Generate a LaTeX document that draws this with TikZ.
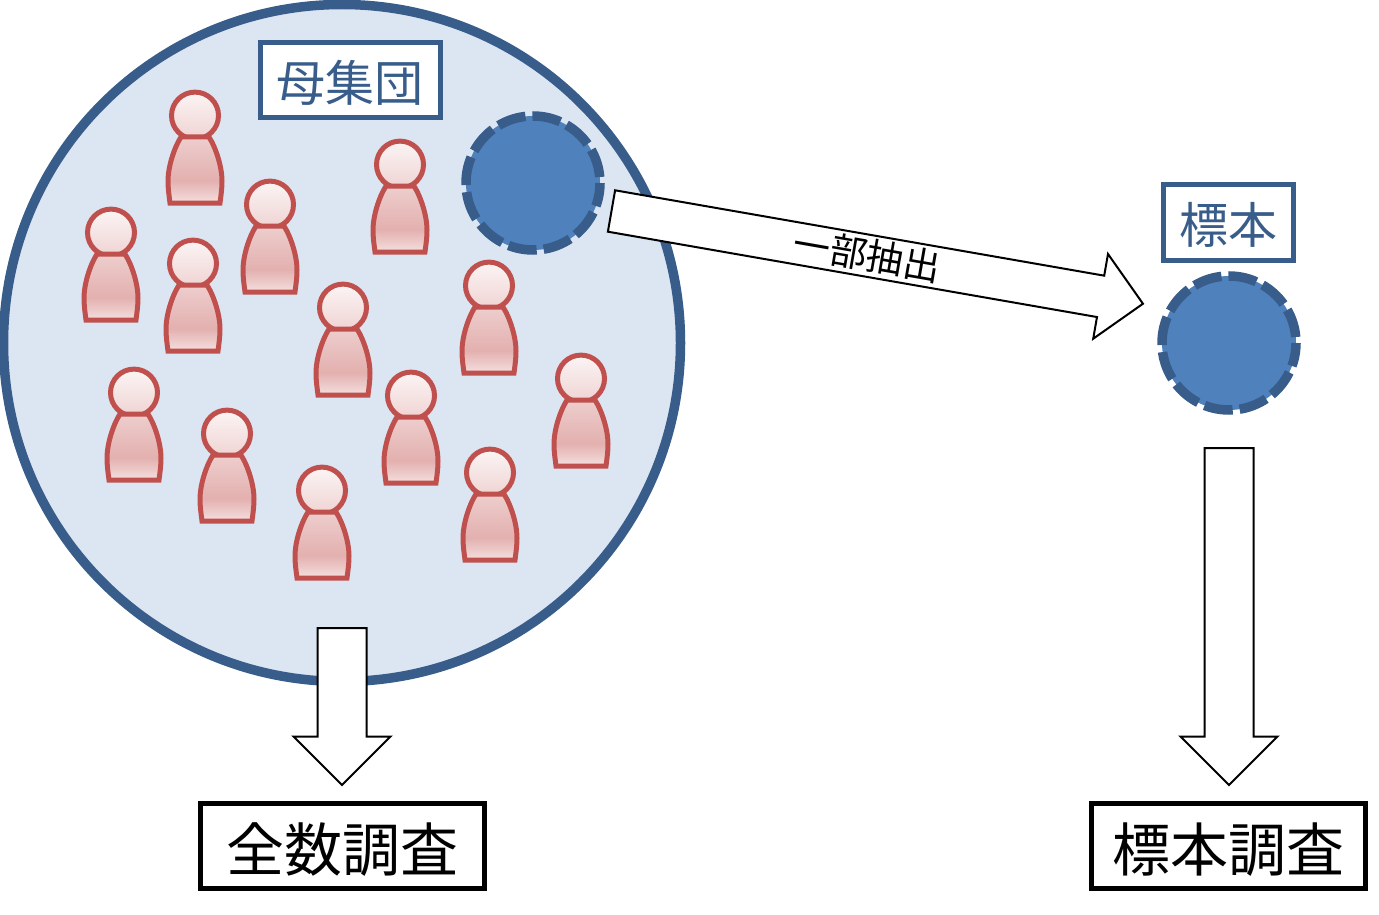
\documentclass[tikz,border=0pt]{standalone}
\usepackage{fontspec}
\newfontfamily\jpfont{Noto Sans CJK JP}
\usetikzlibrary{positioning, shapes.arrows}
\definecolor{popline}{HTML}{385D8A}
\definecolor{popfill}{HTML}{DCE6F2}
\definecolor{samplefill}{HTML}{4F81BD}
\definecolor{personline}{HTML}{C0504D}
\pgfdeclareverticalshading{bodyshade}{100bp}{color(0bp)=(red!5!white!95!black); color(25bp)=(personline!18!white); color(42bp)=(personline!45!white); color(75bp)=(personline!28!white); color(100bp)=(personline!28!white)}
\pgfdeclareverticalshading{headshade}{100bp}{color(0bp)=(personline!25!white); color(25bp)=(personline!25!white); color(75bp)=(personline!6!white); color(100bp)=(personline!6!white)}
\tikzstyle{population}=[circle, draw=popline, fill=popfill, line width=9.5pt, inner sep=0, outer sep=0]
\tikzstyle{sample}=[circle, draw=popline, fill=samplefill, line width=9.5pt, dash pattern=on 28.6pt off 7pt, dash phase=29.6pt, inner sep=0, outer sep=0, minimum size=134pt]
\tikzstyle{labelbox}=[rectangle, draw=popline, fill=white, text=popline, line width=5pt, inner sep=0, outer sep=0, text height=49pt, text depth=6pt, font=\jpfont\fontsize{49pt}{49pt}\selectfont]
\tikzstyle{surveybox}=[rectangle, draw=black, fill=white, line width=5pt, inner sep=0, outer sep=0, minimum height=85pt, text height=59pt, text depth=7pt, font=\jpfont\fontsize{58pt}{58pt}\selectfont]
\tikzstyle{blockarrow}=[single arrow, draw=black, fill=white, line width=2pt, inner sep=0, outer sep=0, text width=1pt, text depth=0pt, single arrow tip angle=90, single arrow head indent=0pt]
\tikzset{pics/person/.style={code={
	\draw[personline, line width=5pt, shading=headshade] (0,0.6) circle (23.5);
	\draw[personline, line width=5pt, shading=bodyshade] (-14,22) .. controls (-21,33) and (-27,52) .. (-27,66)
		.. controls (-27,74) and (-26,80) .. (-25,88) -- (25,88)
		.. controls (26,80) and (27,74) .. (27,66)
		.. controls (27,52) and (21,33) .. (14,22) -- cycle;
}}}

\begin{document}
\begin{tikzpicture}[x=1pt, y=-1pt]
	\useasboundingbox (0,0) rectangle (1379,915);

	% Nodes
	\node[population, minimum size=677pt] (population) at (342,343) {};
	\node[labelbox, minimum width=180pt, minimum height=75pt] (poplabel) at (350,80) {母集団};
	\node[sample] (subset) at (533,183) {};
	\node[sample] (sample) at (1229,343) {};
	\node[labelbox, minimum width=130pt, minimum height=76pt, above=16pt of sample, xshift=-0.5pt] (samplelabel) {標本};

	% People
	\foreach \px/\py in {195/115, 111/232, 193/263, 270/204, 400/164, 343/307, 489/285,
		134/392, 227/433, 411/395, 322/490, 490/472, 581/378}
		\pic at (\px,\py) {person};

	% Block arrows
	\node[blockarrow, text height=40pt, single arrow head extend=22pt, minimum height=539.5pt, rotate=-9.9, anchor=tail] (extract) at (611.5,211) {};
	\node[blockarrow, text height=47pt, single arrow head extend=24pt, minimum height=157pt, rotate=-90, anchor=tail] (census) at (342,628) {};
	\node[blockarrow, text height=47pt, single arrow head extend=24pt, minimum height=337pt, rotate=-90, anchor=tail] (survey) at (1229,448) {};
	\node[rotate=-9.9, font=\jpfont\fontsize{37pt}{37pt}\selectfont] (extractlabel) at (867,255) {一部抽出};

	% Surveys
	\node[surveybox, minimum width=284pt, below=18pt of census.tip] (censusbox) {全数調査};
	\node[surveybox, minimum width=274pt, below=18pt of survey.tip, xshift=-1pt] (surveybox) {標本調査};
\end{tikzpicture}
\end{document}
